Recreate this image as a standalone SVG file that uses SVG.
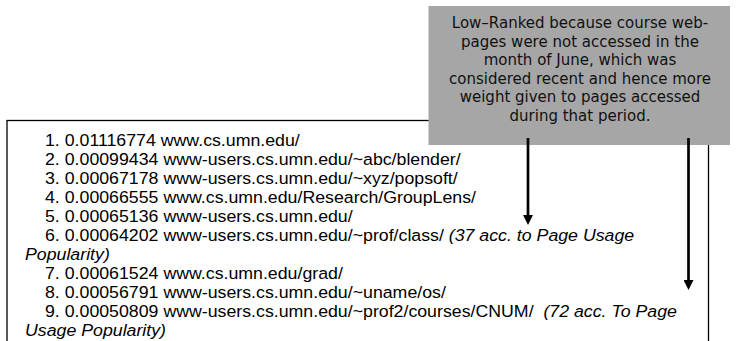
<svg xmlns="http://www.w3.org/2000/svg" width="740" height="341" viewBox="0 0 740 341">
<style>
  .frame { fill: none; stroke: #000; stroke-width: 1.3; }
  .list { font-family: "Liberation Sans", Arial, sans-serif; font-size: 16.5px; fill: #000; white-space: pre; }
  .it { font-style: italic; }
  .note { fill: #a6a6a6; stroke: none; }
  .notetxt { font-family: "DejaVu Sans", Verdana, sans-serif; font-size: 15px; fill: #111; text-anchor: middle; }
  .arrow { stroke: #000; stroke-width: 2.7; fill: none; marker-end: url(#head); }
</style>
<defs>
  <marker id="head" viewBox="0 0 10 10" markerWidth="10" markerHeight="10" markerUnits="userSpaceOnUse" refX="2" refY="5" orient="auto">
    <path d="M0,0 L10,5 L0,10 z" fill="#000"/>
  </marker>
</defs>
<rect width="740" height="341" fill="#fff"/>
<g id="ranking-list">
  <rect class="frame" x="7" y="120.5" width="701.5" height="240"/>
  <text class="list" transform="translate(45,146) scale(1.076,1)">1. 0.01116774 www.cs.umn.edu/</text>
  <text class="list" transform="translate(45,165) scale(1.076,1)">2. 0.00099434 www-users.cs.umn.edu/~abc/blender/</text>
  <text class="list" transform="translate(45,184) scale(1.076,1)">3. 0.00067178 www-users.cs.umn.edu/~xyz/popsoft/</text>
  <text class="list" transform="translate(45,203) scale(1.076,1)">4. 0.00066555 www.cs.umn.edu/Research/GroupLens/</text>
  <text class="list" transform="translate(45,222) scale(1.076,1)">5. 0.00065136 www-users.cs.umn.edu/</text>
  <text class="list" transform="translate(45,241) scale(1.076,1)">6. 0.00064202 www-users.cs.umn.edu/~prof/class/ <tspan class="it">(37 acc. to Page Usage</tspan></text>
  <text class="list it" transform="translate(25,260) scale(1.076,1)">Popularity)</text>
  <text class="list" transform="translate(45,279) scale(1.076,1)">7. 0.00061524 www.cs.umn.edu/grad/</text>
  <text class="list" transform="translate(45,298) scale(1.076,1)">8. 0.00056791 www-users.cs.umn.edu/~uname/os/</text>
  <text class="list" transform="translate(45,317) scale(1.076,1)">9. 0.00050809 www-users.cs.umn.edu/~prof2/courses/CNUM/  <tspan class="it">(72 acc. To Page</tspan></text>
  <text class="list it" transform="translate(25,336) scale(1.076,1)">Usage Popularity)</text>
</g>
<g id="note">
  <rect class="note" x="428.5" y="6" width="301.5" height="139"/>
  <text class="notetxt" x="580" y="28">Low–Ranked because course web-</text>
  <text class="notetxt" x="580" y="46.5">pages were not accessed in the</text>
  <text class="notetxt" x="580" y="65">month of June, which was</text>
  <text class="notetxt" x="580" y="83.5">considered recent and hence more</text>
  <text class="notetxt" x="580" y="102">weight given to pages accessed</text>
  <text class="notetxt" x="580" y="120.5">during that period.</text>
</g>
<g id="connectors">
  <line class="arrow" x1="528" y1="138" x2="528" y2="217"/>
  <line class="arrow" x1="688.5" y1="138" x2="688.5" y2="282"/>
</g>
</svg>
